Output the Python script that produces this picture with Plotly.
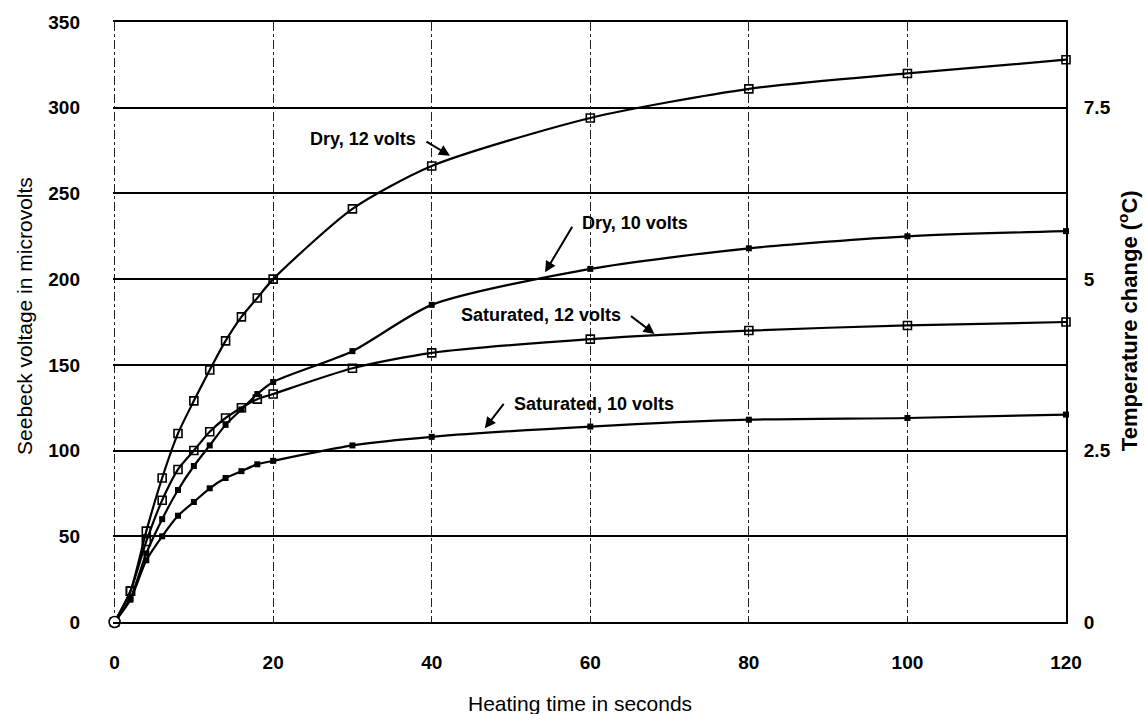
import plotly.graph_objects as go

# ---- data ----
time_s = [0, 2, 4, 6, 8, 10, 12, 14, 16, 18, 20, 30, 40, 60, 80, 100, 120]
dry_12v = [0, 18, 53, 84, 110, 129, 147, 164, 178, 189, 200, 241, 266, 294, 311, 320, 328]
dry_10v = [0, 14, 40, 60, 77, 91, 103, 115, 124, 133, 140, 158, 185, 206, 218, 225, 228]
sat_12v = [0, 18, 47, 71, 89, 100, 111, 119, 125, 130, 133, 148, 157, 165, 170, 173, 175]
sat_10v = [0, 13, 36, 50, 62, 70, 78, 84, 88, 92, 94, 103, 108, 114, 118, 119, 121]

x_ticks = [0, 20, 40, 60, 80, 100, 120]
y_ticks = [0, 50, 100, 150, 200, 250, 300, 350]
y2_ticks = [0, 2.5, 5, 7.5]
y2_labels = ["0", "2.5", "5", "7.5"]

FONT = "Liberation Sans, Arial, sans-serif"

fig = go.Figure()

series = [
    ("Dry, 12 volts", dry_12v, "open"),
    ("Dry, 10 volts", dry_10v, "filled"),
    ("Saturated, 12 volts", sat_12v, "open"),
    ("Saturated, 10 volts", sat_10v, "filled"),
]
for name, vals, style in series:
    if style == "open":
        marker = dict(symbol="square-open", size=8, color="black", line=dict(width=1.6, color="black"))
    else:
        marker = dict(symbol="square", size=6, color="black")
    fig.add_trace(go.Scatter(
        x=time_s, y=vals, name=name, mode="lines+markers",
        line=dict(color="black", width=2.2, shape="spline", smoothing=0.7),
        marker=marker, showlegend=False, cliponaxis=False,
    ))

# open circle at the common origin
fig.add_trace(go.Scatter(
    x=[time_s[0]], y=[dry_12v[0]], mode="markers", showlegend=False, cliponaxis=False,
    marker=dict(symbol="circle", size=11, color="white", line=dict(width=1.6, color="black")),
))

# invisible helper trace so the right-hand temperature axis is drawn
fig.add_trace(go.Scatter(
    x=[time_s[0]], y=[y2_ticks[0]], yaxis="y2", mode="markers", showlegend=False,
    marker=dict(opacity=0), hoverinfo="skip",
))

# label annotations (text + short arrows)
labels = [
    # text, text x, text y (data), arrow head x, y, tail offset (px)
    ("Dry, 12 volts", 31.3, 282, 42.3, 272, -25, -15),
    ("Dry, 10 volts", 65.7, 233, 54.3, 204, 28, -47),
    ("Saturated, 12 volts", 53.8, 179, 68.1, 168, -25, -19),
    ("Saturated, 10 volts", 60.5, 127, 46.7, 113, 20, -26),
]
for text, tx, ty, hx, hy, axo, ayo in labels:
    fig.add_annotation(x=tx, y=ty, text="<b>%s</b>" % text, showarrow=False,
                       font=dict(family=FONT, size=18, color="black"),
                       xanchor="center", yanchor="middle")
    fig.add_annotation(x=hx, y=hy, text="", showarrow=True, ax=axo, ay=ayo,
                       arrowhead=2, arrowsize=1.1, arrowwidth=2, arrowcolor="black")

# axis titles
fig.add_annotation(xref="paper", yref="paper", x=0.49, y=-0.135, text="Heating time in seconds",
                   showarrow=False, font=dict(family=FONT, size=21, color="black"),
                   xanchor="center", yanchor="middle")
fig.add_annotation(xref="paper", yref="paper", x=-0.0934, y=0.51, text="Seebeck voltage in microvolts",
                   showarrow=False, textangle=-90, font=dict(family=FONT, size=21, color="black"),
                   xanchor="center", yanchor="middle")
fig.add_annotation(xref="paper", yref="paper", x=1.065, y=0.503, text="<b>Temperature change (<sup>o</sup>C)</b>",
                   showarrow=False, textangle=-90, font=dict(family=FONT, size=22, color="black"),
                   xanchor="center", yanchor="middle")

TICKFONT = dict(family=FONT, size=19, color="black", weight="bold")

fig.update_layout(
    width=1145, height=714,
    margin=dict(l=113, r=79, t=22, b=92),
    paper_bgcolor="white", plot_bgcolor="white",
    font=dict(family=FONT, size=18, color="black"),
    xaxis=dict(
        range=[-0.2, 120], tickvals=x_ticks, showgrid=True, gridcolor="#222222",
        gridwidth=1.2, griddash="dashdot", zeroline=False,
        showline=True, mirror=True, linecolor="black", linewidth=2,
        ticks="", ticklabelstandoff=22, tickfont=TICKFONT,
    ),
    yaxis=dict(
        range=[0, 350], tickvals=y_ticks, showgrid=True, gridcolor="black",
        gridwidth=2, zeroline=True, zerolinecolor="black", zerolinewidth=2,
        showline=False, ticks="", ticklabelstandoff=32, tickfont=TICKFONT,
    ),
    yaxis2=dict(
        overlaying="y", side="right", range=[0, 8.75], tickvals=y2_ticks,
        ticktext=y2_labels, showgrid=False, zeroline=False, showline=True,
        linecolor="black", linewidth=2, ticks="", ticklabelstandoff=12,
        tickfont=TICKFONT,
    ),
)

fig.write_html("out.html")
